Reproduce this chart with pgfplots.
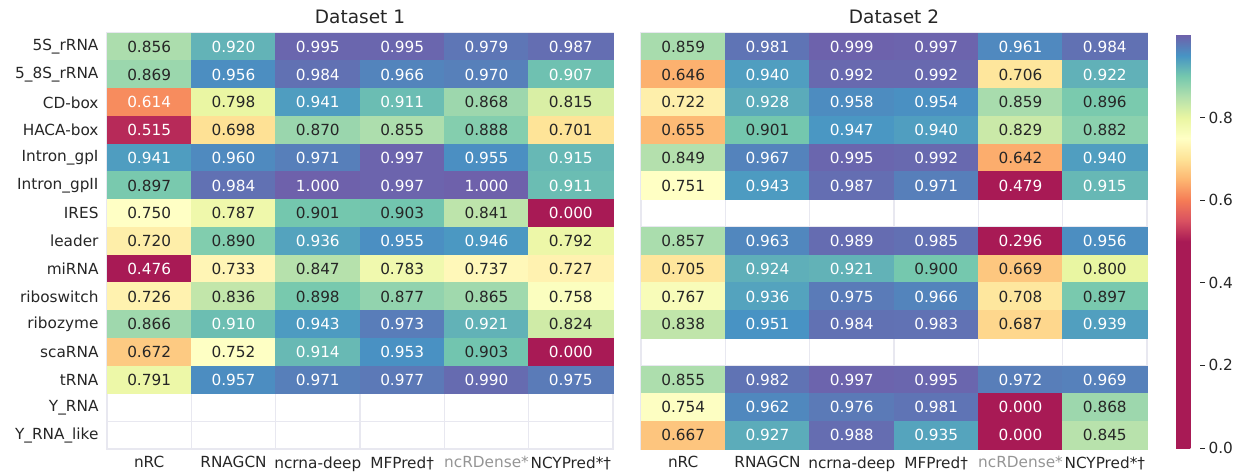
\documentclass[border=0pt]{standalone}
\usepackage{pgfplots}
\pgfplotsset{compat=1.18}
\usepackage{pgfplotstable}
\usepackage{fontspec}
\setmainfont{DejaVu Sans}
\definecolor{txt}{HTML}{262626}
\definecolor{gridcol}{HTML}{E8E8F0}
\definecolor{labgray}{HTML}{959595}
\newcommand\tfont{\fontsize{15.3}{18}\selectfont}
\newcommand\ttfont{\fontsize{18.5}{22}\selectfont}

\pgfplotsset{colormap={spec}{
  rgb255(0cm)=(168,26,85) rgb255(10cm)=(168,26,85)
  rgb255(11cm)=(217,81,97) rgb255(12cm)=(245,124,86)
  rgb255(13cm)=(253,182,113) rgb255(14cm)=(254,227,151)
  rgb255(15cm)=(255,255,197) rgb255(16cm)=(233,246,162)
  rgb255(17cm)=(179,224,173) rgb255(18cm)=(117,200,174)
  rgb255(19cm)=(71,148,196) rgb255(20cm)=(110,97,171)}}

% Dataset 1 (rows 0-12; rows 13-14 empty)
\pgfplotstableread{
x y v
0 0 0.856
1 0 0.920
2 0 0.995
3 0 0.995
4 0 0.979
5 0 0.987
0 1 0.869
1 1 0.956
2 1 0.984
3 1 0.966
4 1 0.970
5 1 0.907
0 2 0.614
1 2 0.798
2 2 0.941
3 2 0.911
4 2 0.868
5 2 0.815
0 3 0.515
1 3 0.698
2 3 0.870
3 3 0.855
4 3 0.888
5 3 0.701
0 4 0.941
1 4 0.960
2 4 0.971
3 4 0.997
4 4 0.955
5 4 0.915
0 5 0.897
1 5 0.984
2 5 1.000
3 5 0.997
4 5 1.000
5 5 0.911
0 6 0.750
1 6 0.787
2 6 0.901
3 6 0.903
4 6 0.841
5 6 0.000
0 7 0.720
1 7 0.890
2 7 0.936
3 7 0.955
4 7 0.946
5 7 0.792
0 8 0.476
1 8 0.733
2 8 0.847
3 8 0.783
4 8 0.737
5 8 0.727
0 9 0.726
1 9 0.836
2 9 0.898
3 9 0.877
4 9 0.865
5 9 0.758
0 10 0.866
1 10 0.910
2 10 0.943
3 10 0.973
4 10 0.921
5 10 0.824
0 11 0.672
1 11 0.752
2 11 0.914
3 11 0.953
4 11 0.903
5 11 0.000
0 12 0.791
1 12 0.957
2 12 0.971
3 12 0.977
4 12 0.990
5 12 0.975
}\dA

% Dataset 2 (rows 6 IRES and 11 scaRNA empty)
\pgfplotstableread{
x y v
0 0 0.859
1 0 0.981
2 0 0.999
3 0 0.997
4 0 0.961
5 0 0.984
0 1 0.646
1 1 0.940
2 1 0.992
3 1 0.992
4 1 0.706
5 1 0.922
0 2 0.722
1 2 0.928
2 2 0.958
3 2 0.954
4 2 0.859
5 2 0.896
0 3 0.655
1 3 0.901
2 3 0.947
3 3 0.940
4 3 0.829
5 3 0.882
0 4 0.849
1 4 0.967
2 4 0.995
3 4 0.992
4 4 0.642
5 4 0.940
0 5 0.751
1 5 0.943
2 5 0.987
3 5 0.971
4 5 0.479
5 5 0.915
0 7 0.857
1 7 0.963
2 7 0.989
3 7 0.985
4 7 0.296
5 7 0.956
0 8 0.705
1 8 0.924
2 8 0.921
3 8 0.900
4 8 0.669
5 8 0.800
0 9 0.767
1 9 0.936
2 9 0.975
3 9 0.966
4 9 0.708
5 9 0.897
0 10 0.838
1 10 0.951
2 10 0.984
3 10 0.983
4 10 0.687
5 10 0.939
0 12 0.855
1 12 0.982
2 12 0.997
3 12 0.995
4 12 0.972
5 12 0.969
0 13 0.754
1 13 0.962
2 13 0.976
3 13 0.981
4 13 0.000
5 13 0.868
0 14 0.667
1 14 0.927
2 14 0.988
3 14 0.935
4 14 0.000
5 14 0.845
}\dB

\pgfplotsset{
  hm/.style={
    scale only axis, width=506pt, height=416pt,
    xmin=-0.5, xmax=5.5, ymin=-0.5, ymax=14.5, y dir=reverse,
    axis on top, colormap name=spec, point meta min=0, point meta max=1,
    xtick={0,...,5}, ytick={0,...,14},
    minor xtick={-0.5,0.5,...,5.5}, minor ytick={-0.5,0.5,...,14.5},
    grid=minor, minor grid style={draw=gridcol, line width=1.4pt},
    major tick length=0pt, minor tick length=0pt,
    axis line style={draw=gridcol, line width=1.4pt},
    tick label style={font=\tfont, text=txt},
    xticklabel style={yshift=-4pt},
    yticklabel style={xshift=-5pt},
    xticklabels={nRC, RNAGCN, ncrna-deep, MFPred†, \textcolor{labgray}{ncRDense*}, NCYPred*†},
    title style={font=\ttfont, text=txt},
  },
  hcell/.style={only marks, scatter, mark=square*, mark size=13.95pt,
    mark options={xscale=3.032},
    scatter/use mapped color={draw=mapped color, fill=mapped color},
    point meta=explicit},
  hval/.style n args={3}{draw=none, mark=none, point meta=explicit,
    restrict expr to domain={\thisrow{v}}{#1:#2},
    nodes near coords={\pgfmathprintnumber[fixed,fixed zerofill,precision=3,assume math mode=true]{\pgfplotspointmeta}},
    every node near coord/.append style={font=\tfont, text=#3, anchor=center, inner sep=0pt}},
}
\newcommand\heat[1]{%
  \addplot[hcell] table[x=x, y=y, meta=v] {#1};
  \addplot[hval={-1}{0.6275}{white}] table[x=x, y=y, meta=v] {#1};
  \addplot[hval={0.6275}{0.9065}{txt}] table[x=x, y=y, meta=v] {#1};
  \addplot[hval={0.9065}{2}{white}] table[x=x, y=y, meta=v] {#1};
}

\begin{document}
\begin{tikzpicture}
\useasboundingbox (-107pt,33pt) rectangle (1130pt,-440pt);
\begin{axis}[hm, at={(0pt,0pt)}, anchor=north west,
  title={Dataset 1},
  yticklabels={5S\_rRNA, 5\_8S\_rRNA, CD-box, HACA-box, Intron\_gpI, Intron\_gpII, IRES, leader, miRNA, riboswitch, ribozyme, scaRNA, tRNA, Y\_RNA, Y\_RNA\_like}]
\heat{\dA}
\end{axis}
\begin{axis}[hm, at={(534pt,0pt)}, anchor=north west,
  title={Dataset 2}, yticklabels={},
  colorbar,
  colorbar style={
    scale only axis,
    at={(parent axis.north east)}, anchor=north west, xshift=20.5pt, yshift=-2pt,
    width=24pt, height=413pt,
    ymin=0, ymax=1,
    ytick={0,0.2,0.4,0.6,0.8},
    yticklabel={\pgfmathprintnumber[fixed,fixed zerofill,precision=1,assume math mode=true]{\tick}},
    yticklabel style={font=\tfont, text=txt, xshift=0pt, yshift=0pt},
    ytick pos=right, tick align=outside, major tick length=5pt,
    tick style={draw=txt, line width=0.8pt},
    axis line style={draw=none}, grid=none, minor tick length=0pt,
  }]
\heat{\dB}
\end{axis}
\end{tikzpicture}
\end{document}
